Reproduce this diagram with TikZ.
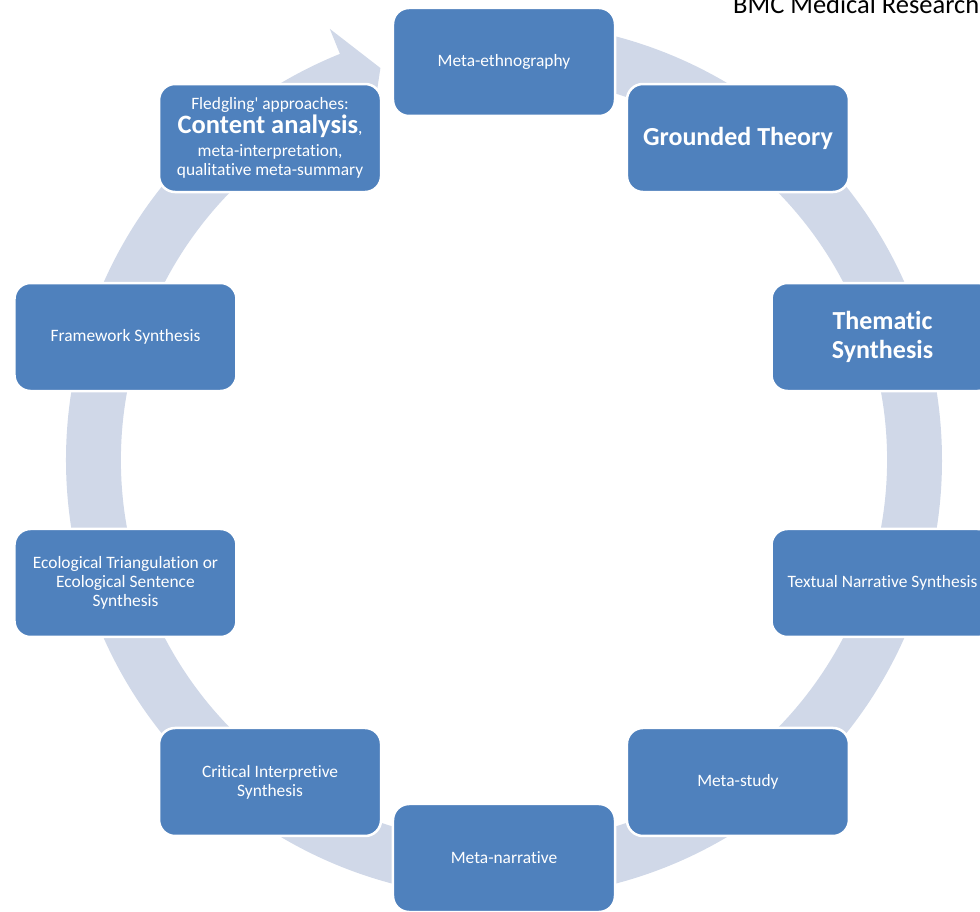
\documentclass[tikz,border=0pt]{standalone}
\usepackage{fontspec}
\setmainfont{Carlito}[Ligatures={TeXOff,CommonOff}]
\definecolor{boxblue}{RGB}{79,129,189}
\definecolor{ringblue}{RGB}{208,216,232}
\tikzset{
  stage/.style={draw=white, line width=2.5pt, fill=boxblue, rounded corners=16pt,
    minimum width=222pt, minimum height=108pt, inner sep=0pt, text=white,
    align=center, font=\fontsize{17.4}{19}\selectfont},
  bigstage/.style={stage, font=\fontsize{26}{28.5}\selectfont\bfseries}
}
\newcommand\emphline{\fontsize{26.5}{25}\selectfont\bfseries}
\begin{document}
\begin{tikzpicture}[x=1pt,y=1pt]
% page frame, origin at the centre of the cycle
\useasboundingbox (-504,-452) rectangle (476,460);
\clip (-504,-452) rectangle (476,460);

% the circular arrow behind the stages
\fill[ringblue] (92:438) arc[start angle=92, end angle=-248, radius=438]
  -- (-248:465) -- (-252.5:411) -- (-248:355) -- (-248:383)
  arc[start angle=-248, end angle=92, radius=383] -- cycle;

% stages, clockwise from the top
\node[stage]    (meth) at (90:398)   {Meta-ethnography};
\node[bigstage] (gt)   at (54:398)   {Grounded Theory};
\node[bigstage] (ts)   at (18:398)   {Thematic\\Synthesis};
\node[stage]    (tns)  at (-18:398)  {Textual Narrative Synthesis};
\node[stage]    (ms)   at (-54:398)  {Meta-study};
\node[stage]    (mn)   at (-90:398)  {Meta-narrative};
\node[stage]    (cis)  at (-126:398) {Critical Interpretive\\Synthesis};
\node[stage]    (eco)  at (-162:398) {Ecological Triangulation or\\Ecological Sentence\\Synthesis};
\node[stage]    (fw)   at (162:398)  {Framework Synthesis};
\node[stage]    (fl)   at (126:398)  {Fledgling' approaches:\\[1pt]{\emphline Content analysis},\\[4pt]meta-interpretation,\\qualitative meta-summary};

% running header
\node[anchor=base west, inner sep=0pt, font=\fontsize{26.5}{30}\selectfont] (hdr) at (229,446) {BMC Medical Research};
\end{tikzpicture}
\end{document}
